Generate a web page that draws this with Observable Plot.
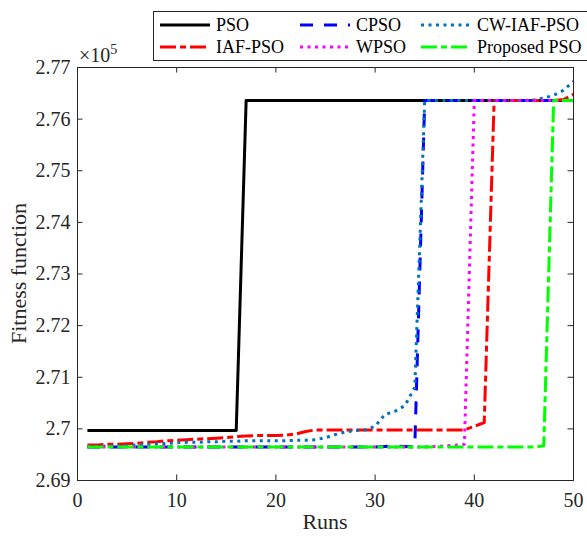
<!DOCTYPE html>
<html><head><meta charset="utf-8">
<script src="https://cdn.jsdelivr.net/npm/d3@7"></script>
<script src="https://cdn.jsdelivr.net/npm/@observablehq/plot@0.6"></script>
<style>
body{margin:0;background:#fff}
#chart{width:587px;height:537px;overflow:hidden}
</style>
</head><body><div id="chart"></div>
<script>
const runs = [1,2,3,4,5,6,7,8,9,10,11,12,13,14,15,16,17,18,19,20,21,22,23,24,25,26,27,28,29,30,31,32,33,34,35,36,37,38,39,40,41,42,43,44,45,46,47,48,49,50];

const psoValues = [2.6997,2.6997,2.6997,2.6997,2.6997,2.6997,2.6997,2.6997,2.6997,2.6997,2.6997,2.6997,2.6997,2.6997,2.6997,2.6997,
  2.7636,2.7636,2.7636,2.7636,2.7636,2.7636,2.7636,2.7636,2.7636,2.7636,2.7636,2.7636,2.7636,2.7636,2.7636,2.7636,2.7636,2.7636,
  2.7636,2.7636,2.7636,2.7636,2.7636,2.7636,2.7636,2.7636,2.7636,2.7636,2.7636,2.7636,2.7636,2.7636,2.7636,2.7636];

const iafValues = [2.6969,2.6969,2.6970,2.6970,2.6971,2.6972,2.6974,2.6975,2.6977,2.6978,2.6979,2.6980,2.6981,2.6982,2.6983,2.6985,
  2.6986,2.6987,2.6987,2.6987,2.6988,2.6990,2.6995,2.6998,2.6998,2.6998,2.6998,2.6998,2.6998,2.6998,2.6998,2.6998,2.6998,2.6998,
  2.6998,2.6998,2.6998,2.6998,2.6998,2.7005,2.7012,2.7636,2.7636,2.7636,2.7636,2.7636,2.7636,2.7636,2.7638,2.7648];

const cpsoValues = [2.6965,2.6965,2.6965,2.6965,2.6965,2.6965,2.6965,2.6965,2.6965,2.6965,2.6965,2.6965,2.6965,2.6965,2.6965,2.6965,
  2.6965,2.6965,2.6965,2.6965,2.6965,2.6965,2.6965,2.6965,2.6965,2.6965,2.6965,2.6965,2.6965,2.6965,2.6966,2.6967,2.6966,2.6965,
  2.7636,2.7636,2.7636,2.7636,2.7636,2.7636,2.7636,2.7636,2.7636,2.7636,2.7636,2.7636,2.7636,2.7636,2.7636,2.7636];

const cwIafValues = [2.6966,2.6966,2.6967,2.6967,2.6968,2.6969,2.6970,2.6971,2.6972,2.6973,2.6974,2.6974,2.6975,2.6975,2.6976,2.6976,
  2.6977,2.6977,2.6977,2.6977,2.6977,2.6978,2.6978,2.6979,2.6983,2.6989,2.6994,2.6997,2.6998,2.7005,2.7028,2.7034,2.7045,2.7080,
  2.7636,2.7636,2.7636,2.7636,2.7636,2.7636,2.7636,2.7636,2.7636,2.7636,2.7636,2.7637,2.7641,2.7646,2.7656,2.7673];

const wpsoValues = [2.6965,2.6965,2.6965,2.6965,2.6965,2.6965,2.6965,2.6965,2.6965,2.6965,2.6965,2.6965,2.6965,2.6965,2.6965,2.6965,
  2.6965,2.6965,2.6965,2.6965,2.6965,2.6965,2.6965,2.6965,2.6965,2.6965,2.6965,2.6965,2.6965,2.6965,2.6965,2.6965,2.6965,2.6965,
  2.6965,2.6966,2.6967,2.6968,2.6970,2.7636,2.7636,2.7636,2.7636,2.7636,2.7636,2.7636,2.7636,2.7636,2.7636,2.7636];

const proposedValues = [2.6965,2.6965,2.6965,2.6965,2.6965,2.6965,2.6965,2.6965,2.6965,2.6965,2.6965,2.6965,2.6965,2.6965,2.6965,2.6965,
  2.6965,2.6965,2.6965,2.6965,2.6965,2.6965,2.6965,2.6965,2.6965,2.6965,2.6965,2.6965,2.6965,2.6965,2.6965,2.6965,2.6965,2.6965,
  2.6965,2.6965,2.6965,2.6965,2.6965,2.6965,2.6965,2.6965,2.6965,2.6965,2.6965,2.6965,2.6967,2.7636,2.7636,2.7636];

const seriesNames = ["PSO","IAF-PSO","CPSO","CW-IAF-PSO","WPSO","Proposed PSO"];
const xTicks = [0,10,20,30,40,50];
const yTicks = [2.69,2.70,2.71,2.72,2.73,2.74,2.75,2.76,2.77];
const yTickLabels = ["2.69","2.7","2.71","2.72","2.73","2.74","2.75","2.76","2.77"];

const valuesByName = {
  "PSO": psoValues, "IAF-PSO": iafValues, "CPSO": cpsoValues,
  "CW-IAF-PSO": cwIafValues, "WPSO": wpsoValues, "Proposed PSO": proposedValues
};
const styles = {
  "PSO":          {stroke:"#000000", dash:null,        width:3},
  "IAF-PSO":      {stroke:"#ff0000", dash:"16,4,6,4",  width:3},
  "CPSO":         {stroke:"#0000ff", dash:"13,11",     width:3},
  "CW-IAF-PSO":   {stroke:"#0072bd", dash:"3,4.5",     width:3},
  "WPSO":         {stroke:"#ff00ff", dash:"3,4.5",     width:3},
  "Proposed PSO": {stroke:"#00ff00", dash:"16,4,6,4",  width:3}
};

const table = seriesNames.flatMap(name => runs.map((r, i) => ({name, run: r, value: valuesByName[name][i]})));

const axisColor = "#262626";
const font = "Liberation Serif, Times New Roman, serif";
const W = 587, H = 537, mL = 77, mR = 14, mT = 67, mB = 57;
const xDomain = [0, 50], yDomain = [2.69, 2.77];
const tickX = 0.55;      // ~5.5 px in x units
const tickY = 0.00108;   // ~5.5 px in y units

const plot = Plot.plot({
  width: W, height: H,
  marginLeft: mL, marginRight: mR, marginTop: mT, marginBottom: mB,
  style: {fontFamily: font, color: axisColor, background: "#fff"},
  x: {domain: xDomain},
  y: {domain: yDomain},
  marks: [
    ...seriesNames.map(name => Plot.line(table.filter(d => d.name === name), {
      x: "run", y: "value", stroke: styles[name].stroke, strokeWidth: styles[name].width,
      strokeDasharray: styles[name].dash, strokeLinejoin: "round", strokeLinecap: "butt"
    })),
    Plot.ruleX(xTicks, {x: d => d, y1: yDomain[0], y2: yDomain[0] + tickY, stroke: axisColor, strokeWidth: 1}),
    Plot.ruleX(xTicks, {x: d => d, y1: yDomain[1] - tickY, y2: yDomain[1], stroke: axisColor, strokeWidth: 1}),
    Plot.ruleY(yTicks, {y: d => d, x1: xDomain[0], x2: xDomain[0] + tickX, stroke: axisColor, strokeWidth: 1}),
    Plot.ruleY(yTicks, {y: d => d, x1: xDomain[1] - tickX, x2: xDomain[1], stroke: axisColor, strokeWidth: 1}),
    Plot.frame({stroke: axisColor, strokeWidth: 1}),
    Plot.axisX({ticks: xTicks, tickSize: 0, tickPadding: 12, fontSize: 20, label: null, tickFormat: d => String(d)}),
    Plot.axisY({ticks: yTicks, tickSize: 0, tickPadding: 7, fontSize: 20, label: null, tickFormat: (d, i) => yTickLabels[i]})
  ]
});

document.getElementById("chart").appendChild(plot);
const svg = d3.select(plot);
svg.attr("overflow", "hidden");

// axis titles
svg.append("text").attr("x", mL + (W - mL - mR) / 2).attr("y", 529)
  .attr("text-anchor", "middle").attr("font-family", font).attr("font-size", 22).attr("fill", axisColor).text("Runs");
svg.append("text").attr("transform", `translate(26,${mT + (H - mT - mB) / 2}) rotate(-90)`)
  .attr("text-anchor", "middle").attr("font-family", font).attr("font-size", 22).attr("fill", axisColor).text("Fitness function");
// exponent
const ex = svg.append("text").attr("x", 79).attr("y", 62).attr("text-anchor", "start")
  .attr("font-family", font).attr("font-size", 20).attr("fill", axisColor);
ex.append("tspan").text("×10");
ex.append("tspan").attr("font-size", 14).attr("dy", -8).text("5");

// legend
const lg = svg.append("g");
lg.append("rect").attr("x", 153.5).attr("y", 11.5).attr("width", 450).attr("height", 49)
  .attr("fill", "#fff").attr("stroke", axisColor).attr("stroke-width", 1);
const legendOrder = [["PSO","IAF-PSO"],["CPSO","WPSO"],["CW-IAF-PSO","Proposed PSO"]];
const colX = [160, 300, 421];
const rowY = [25, 47];
legendOrder.forEach((col, ci) => col.forEach((name, ri) => {
  const s = styles[name];
  lg.append("line").attr("x1", colX[ci]).attr("x2", colX[ci] + 50).attr("y1", rowY[ri]).attr("y2", rowY[ri])
    .attr("stroke", s.stroke).attr("stroke-width", s.width).attr("stroke-dasharray", s.dash);
  lg.append("text").attr("x", colX[ci] + 56).attr("y", rowY[ri] + 6).attr("text-anchor", "start")
    .attr("font-family", font).attr("font-size", 18).attr("fill", "#000").text(name);
}));
</script>
</body></html>
